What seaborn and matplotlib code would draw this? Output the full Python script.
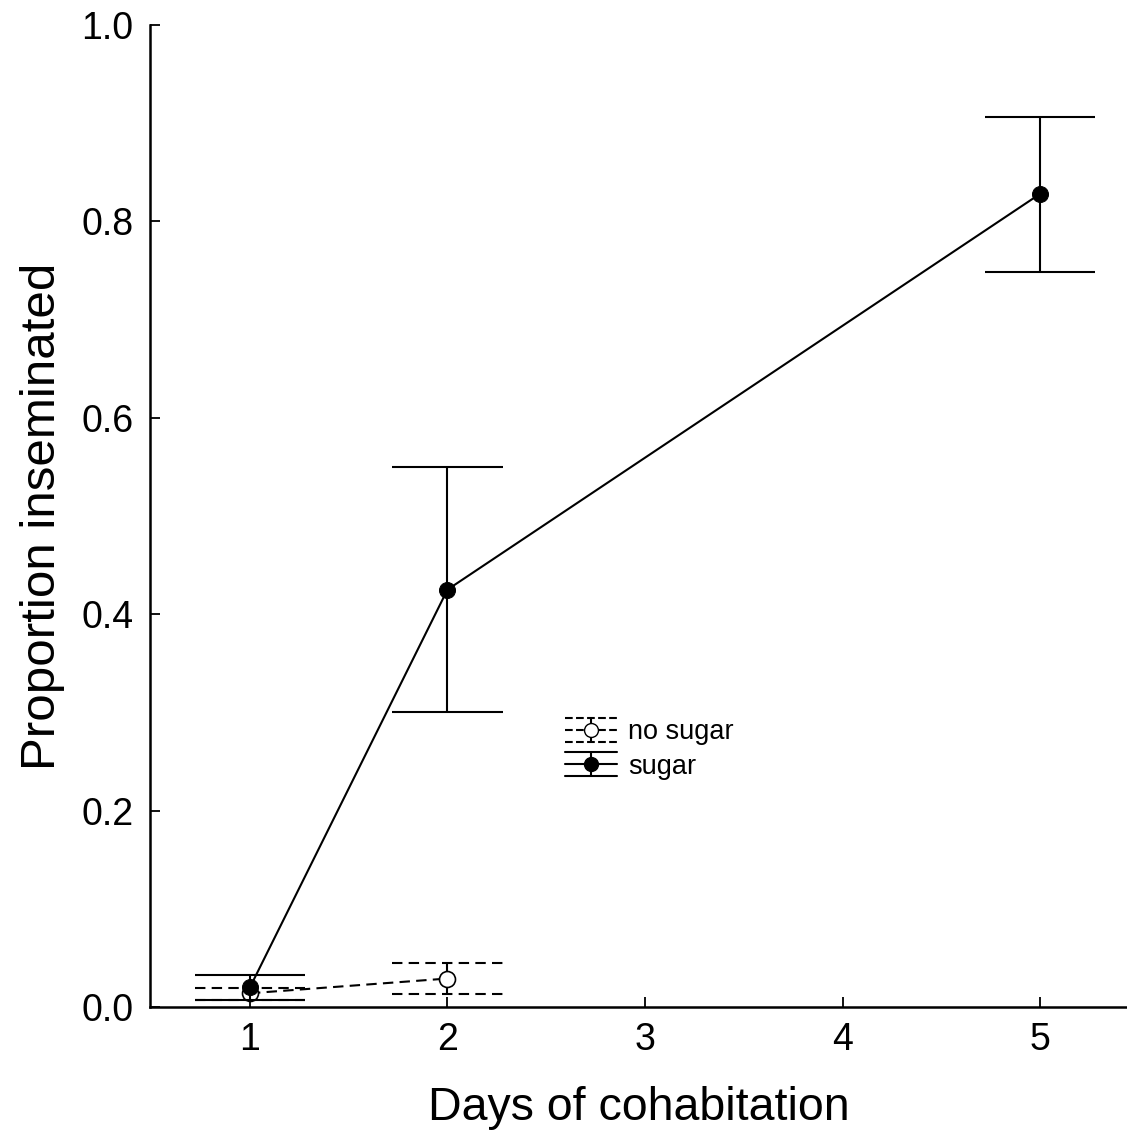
import numpy as np
import pandas as pd
import matplotlib
matplotlib.use("Agg")
import matplotlib.pyplot as plt
import seaborn as sns
from matplotlib.lines import Line2D
from matplotlib.legend_handler import HandlerBase

# data
sugar_days = [1, 2, 5]
sugar_p = [0.020, 0.425, 0.828]
sugar_lo = [0.007, 0.300, 0.748]
sugar_hi = [0.033, 0.550, 0.906]

nosugar_days = [1, 2]
nosugar_p = [0.014, 0.029]
nosugar_lo = [0.007, 0.013]
nosugar_hi = [0.019, 0.045]

sugar = pd.DataFrame({"day": sugar_days, "p": sugar_p, "lo": sugar_lo, "hi": sugar_hi})
nosugar = pd.DataFrame({"day": nosugar_days, "p": nosugar_p, "lo": nosugar_lo, "hi": nosugar_hi})

sns.set_style("ticks")
plt.rcParams["font.family"] = ["Liberation Sans", "DejaVu Sans"]
plt.rcParams["text.color"] = "k"
plt.rcParams["axes.labelcolor"] = "k"

fig = plt.figure(figsize=(11.27, 11.33), dpi=100)
ax = fig.add_axes([0.1331, 0.1112, 0.8669, 0.8668])

capw = 0.28
lw = 1.5
dash = (0, (5, 3))

# no sugar (dashed, open circles)
ax.vlines(nosugar["day"], nosugar["lo"], nosugar["hi"], colors="k", lw=lw, zorder=2)
ax.hlines(nosugar["lo"], nosugar["day"] - capw, nosugar["day"] + capw, colors="k",
          lw=lw, linestyles=dash, zorder=2)
ax.hlines(nosugar["hi"], nosugar["day"] - capw, nosugar["day"] + capw, colors="k",
          lw=lw, linestyles=dash, zorder=2)
sns.lineplot(data=nosugar, x="day", y="p", ax=ax, color="k", lw=lw, linestyle=dash,
             marker="o", markersize=11.5, markerfacecolor="white", markeredgecolor="k",
             markeredgewidth=1.2, zorder=3)

# sugar (solid, filled circles)
ax.vlines(sugar["day"], sugar["lo"], sugar["hi"], colors="k", lw=lw, zorder=4)
ax.hlines(sugar["lo"], sugar["day"] - capw, sugar["day"] + capw, colors="k", lw=lw, zorder=4)
ax.hlines(sugar["hi"], sugar["day"] - capw, sugar["day"] + capw, colors="k", lw=lw, zorder=4)
sns.lineplot(data=sugar, x="day", y="p", ax=ax, color="k", lw=lw, marker="o",
             markersize=11.5, markerfacecolor="k", markeredgecolor="k", zorder=5)


class ErrHandler(HandlerBase):
    def create_artists(self, legend, orig, xd, yd, w, h, fs, trans):
        ls = orig.get_linestyle()
        fc = orig.get_markerfacecolor()
        x0, x1 = -xd, -xd + w
        xm = (x0 + x1) / 2
        ym = -yd + h / 2
        dy = h / 2
        arts = []
        for y in (ym - dy, ym, ym + dy):
            arts.append(Line2D([x0, x1], [y, y], ls=ls, color="k", lw=lw))
        arts.append(Line2D([xm, xm], [ym - dy, ym + dy], color="k", lw=lw))
        arts.append(Line2D([xm], [ym], marker="o", ms=10, mfc=fc, mec="k", ls="none"))
        for a in arts:
            a.set_transform(trans)
        return arts


h_no = Line2D([], [], color="k", ls=(0, (4, 4)), marker="o", mfc="white")
h_su = Line2D([], [], color="k", ls="-", marker="o", mfc="k")
ax.legend([h_no, h_su], ["no sugar", "sugar"], handler_map={Line2D: ErrHandler()},
          loc="center left", bbox_to_anchor=(0.425, 0.263), frameon=False,
          fontsize=19.5, borderpad=0, borderaxespad=0, handlelength=1.92,
          handleheight=1.0, handletextpad=0.4, labelspacing=0.25)

ax.set_xlim(0.494, 5.44)
ax.set_ylim(0, 1.0)
ax.set_xticks([1, 2, 3, 4, 5])
ax.set_yticks([0.0, 0.2, 0.4, 0.6, 0.8, 1.0])
ax.yaxis.set_major_formatter(matplotlib.ticker.FormatStrFormatter("%.1f"))
ax.tick_params(direction="in", length=7, width=1.3, labelsize=27, pad=12, colors="k")
ax.tick_params(axis="x", pad=11)
for s in ["top", "right"]:
    ax.spines[s].set_visible(False)
for s in ["left", "bottom"]:
    ax.spines[s].set_linewidth(1.8)
    ax.spines[s].set_color("k")

ax.set_xlabel("Days of cohabitation", fontsize=33.5, labelpad=20)
ax.set_ylabel("Proportion inseminated", fontsize=35.5, labelpad=12)

fig.savefig("out.png", dpi=100)
